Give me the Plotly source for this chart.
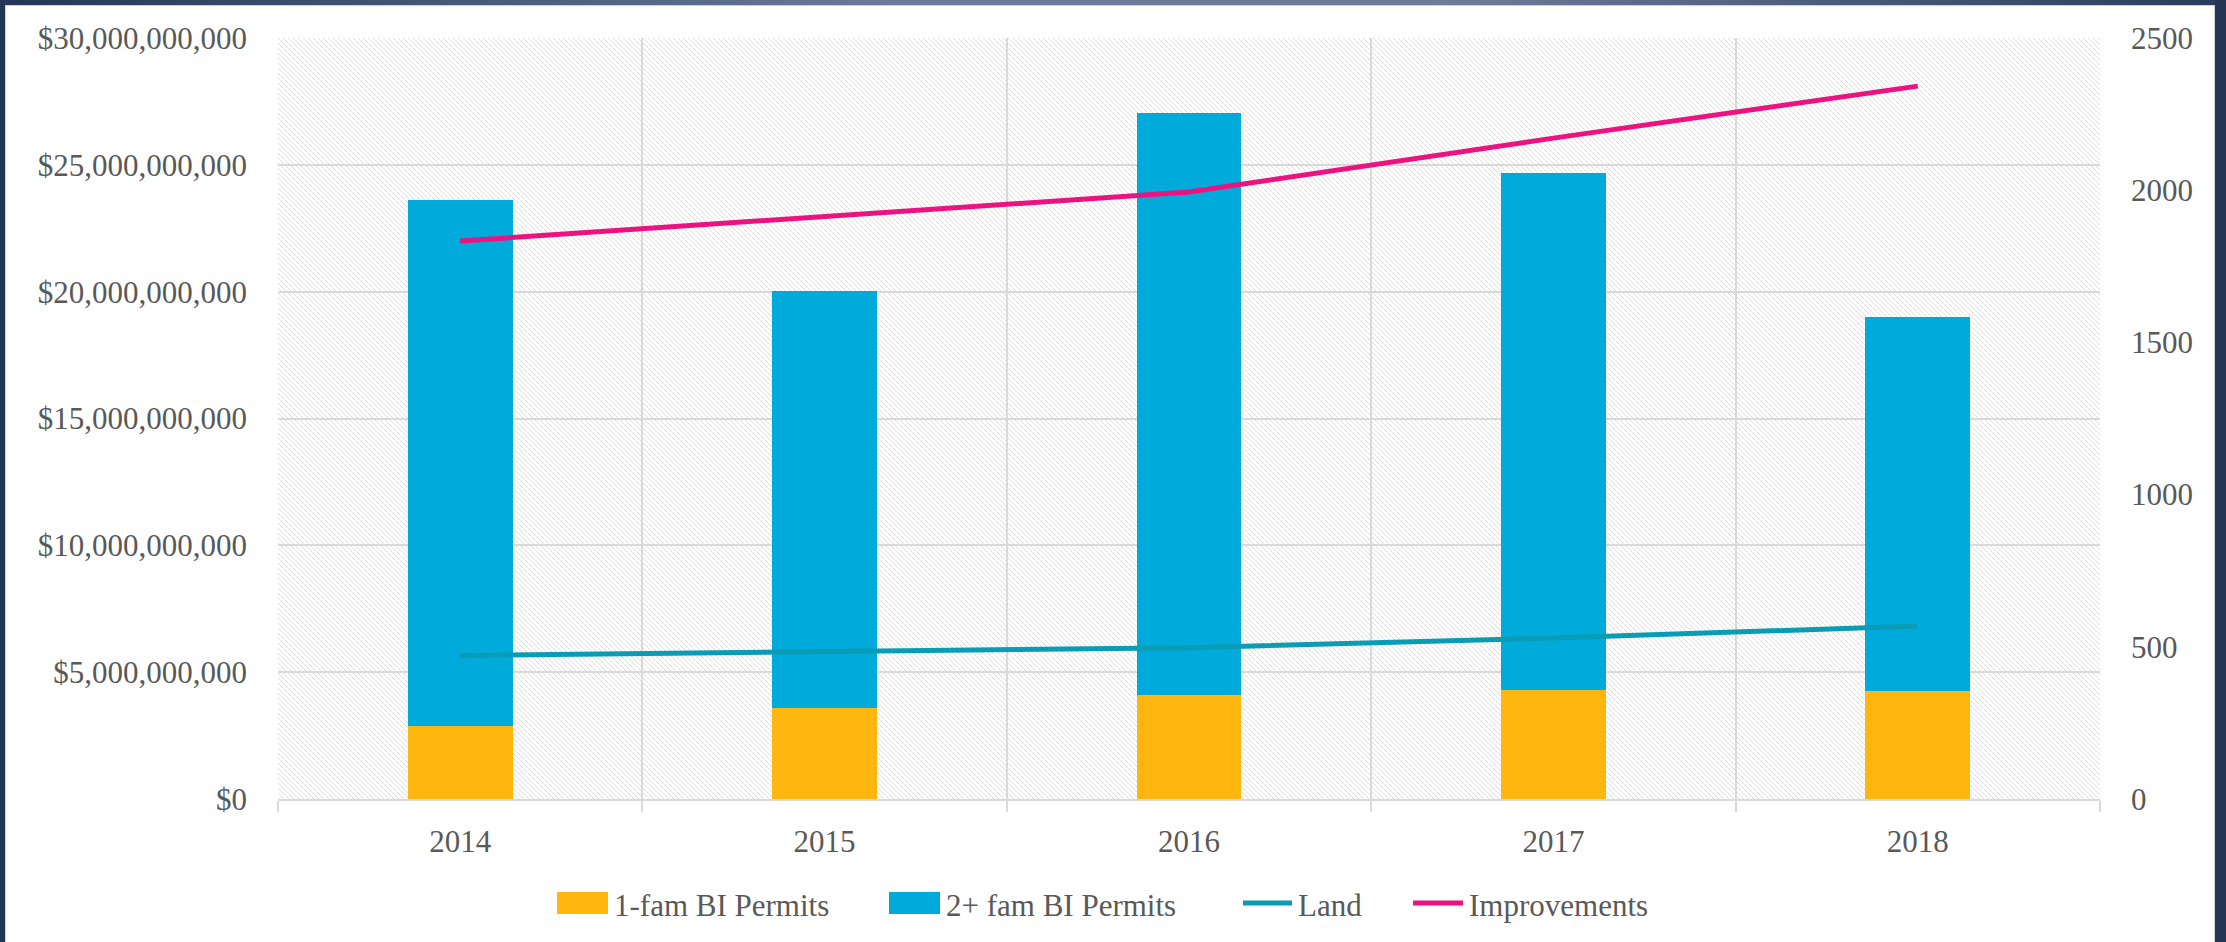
import base64
import plotly.graph_objects as go

# ---------------- data ----------------
years = ["2014", "2015", "2016", "2017", "2018"]
one_fam = [2.86e9, 3.58e9, 4.09e9, 4.31e9, 4.27e9]
two_plus = [20.77e9, 16.46e9, 22.95e9, 20.38e9, 14.72e9]
land = [471, 483, 497, 529, 568]
improvements = [1833, 1912, 1994, 2171, 2342]
left_ticks = [0, 5e9, 10e9, 15e9, 20e9, 25e9, 30e9]
left_labels = ["$" + f"{v:,.0f}" for v in left_ticks]
right_ticks = [0, 500, 1000, 1500, 2000, 2500]
series_names = ["1-fam BI Permits", "2+ fam BI Permits", "Land", "Improvements"]
series_colors = ["#FFB70F", "#00ABDB", "#0A9CB4", "#EC1380"]

# ---------------- layout geometry ----------------
W, H = 2226, 942
L, R, T, B = 278, 2100, 38, 799
PW, PH = R - L, B - T

def px(x):
    return (x - L) / PW

def py(y):
    return (B - y) / PH

FONT = "Liberation Serif"
GRAY = "#595959"
GRID = "#D9D9D9"

fig = go.Figure()
fig.add_trace(go.Bar(x=years, y=one_fam, name=series_names[0],
                     marker=dict(color=series_colors[0], line=dict(width=0))))
fig.add_trace(go.Bar(x=years, y=two_plus, name=series_names[1],
                     marker=dict(color=series_colors[1], line=dict(width=0))))
fig.add_trace(go.Scatter(x=years, y=land, name=series_names[2], yaxis="y2", mode="lines",
                         line=dict(color=series_colors[2], width=5)))
fig.add_trace(go.Scatter(x=years, y=improvements, name=series_names[3], yaxis="y2",
                         mode="lines", line=dict(color=series_colors[3], width=5)))

# hatch background for plot area
hatch_svg = f'''<svg xmlns="http://www.w3.org/2000/svg" width="{PW}" height="{PH}">
<defs><pattern id="h" patternUnits="userSpaceOnUse" width="5" height="5">
<path d="M0,0 L5,5 M-1,4 L1,6 M4,-1 L6,1" stroke="#DEDEDE" stroke-width="1"/>
</pattern></defs>
<rect width="{PW}" height="{PH}" fill="white"/>
<rect width="{PW}" height="{PH}" fill="url(#h)"/>
</svg>'''
hatch_uri = "data:image/svg+xml;base64," + base64.b64encode(hatch_svg.encode()).decode()

grad_svg = '''<svg xmlns="http://www.w3.org/2000/svg" width="2226" height="5">
<defs><linearGradient id="g" x1="0" x2="1" y1="0" y2="0">
<stop offset="0" stop-color="#243556"/><stop offset="0.4" stop-color="#6A7A98"/>
<stop offset="0.65" stop-color="#6C7C99"/><stop offset="1" stop-color="#2A3B5B"/>
</linearGradient></defs><rect width="2226" height="5" fill="url(#g)"/></svg>'''
grad_uri = "data:image/svg+xml;base64," + base64.b64encode(grad_svg.encode()).decode()

images = [
    dict(source=hatch_uri, xref="paper", yref="paper", x=0, y=1, sizex=1, sizey=1,
         xanchor="left", yanchor="top", sizing="stretch", layer="below"),
    dict(source=grad_uri, xref="paper", yref="paper", x=px(0), y=py(0),
         sizex=W / PW, sizey=5 / PH, xanchor="left", yanchor="top",
         sizing="stretch", layer="above"),
]

navy = "#243654"
shapes = [
    dict(type="rect", xref="paper", yref="paper", x0=px(0), x1=px(5), y0=py(H + 5), y1=py(0),
         fillcolor=navy, line=dict(width=0), layer="above"),
    dict(type="rect", xref="paper", yref="paper", x0=px(2215), x1=px(W + 5), y0=py(H + 5), y1=py(0),
         fillcolor=navy, line=dict(width=0), layer="above"),
    dict(type="line", xref="paper", yref="paper", x0=px(5.5), x1=px(5.5), y0=py(H + 5), y1=py(5),
         line=dict(color="#D0D0D0", width=1), layer="above"),
    dict(type="line", xref="paper", yref="paper", x0=px(2214.5), x1=px(2214.5), y0=py(H + 5), y1=py(5),
         line=dict(color="#D0D0D0", width=1), layer="above"),
    dict(type="line", xref="paper", yref="paper", x0=px(5), x1=px(2215), y0=py(5.5), y1=py(5.5),
         line=dict(color="#D0D0D0", width=1), layer="above"),
]

# ---------------- custom legend (swatches + labels) ----------------
annotations = []
legend_y = 903
legend_items = [
    # (kind, swatch x0, swatch x1, text x)
    ("box", 557, 608, 612),
    ("box", 889, 940, 944),
    ("line", 1243, 1292, 1296),
    ("line", 1413, 1463, 1467),
]
for (kind, sx0, sx1, tx), name, color in zip(legend_items, series_names, series_colors):
    if kind == "box":
        shapes.append(dict(type="rect", xref="paper", yref="paper", x0=px(sx0), x1=px(sx1),
                           y0=py(legend_y + 11), y1=py(legend_y - 11),
                           fillcolor=color, line=dict(width=0), layer="above"))
    else:
        shapes.append(dict(type="line", xref="paper", yref="paper", x0=px(sx0), x1=px(sx1),
                           y0=py(legend_y), y1=py(legend_y),
                           line=dict(color=color, width=5), layer="above"))
    annotations.append(dict(text=name, xref="paper", yref="paper", x=px(tx), y=py(legend_y + 2),
                            xanchor="left", yanchor="middle", showarrow=False,
                            font=dict(size=31, color=GRAY, family=FONT)))

fig.update_layout(
    width=W, height=H,
    margin=dict(l=L, r=W - R, t=T, b=H - B, pad=0),
    paper_bgcolor="white", plot_bgcolor="rgba(0,0,0,0)",
    barmode="stack", bargap=0.712,
    font=dict(family=FONT, color=GRAY, size=31),
    showlegend=False,
    xaxis=dict(type="category", tickson="boundaries", ticks="outside", ticklen=11,
               tickcolor=GRID, tickwidth=2, showgrid=True, gridcolor=GRID, gridwidth=2,
               showline=True, linecolor=GRID, linewidth=2,
               tickfont=dict(size=31, color=GRAY, family=FONT), ticklabelstandoff=14),
    yaxis=dict(range=[0, 30e9], tickmode="array", tickvals=left_ticks, ticktext=left_labels,
               showgrid=True, gridcolor=GRID, gridwidth=2, zeroline=False,
               showline=False, ticks="", ticklabelstandoff=30,
               tickfont=dict(size=31, color=GRAY, family=FONT)),
    yaxis2=dict(range=[0, 2500], tickvals=right_ticks, overlaying="y", side="right",
                showgrid=False, zeroline=False, showline=False, ticks="",
                ticklabelstandoff=30, tickfont=dict(size=31, color=GRAY, family=FONT)),
    images=images, shapes=shapes, annotations=annotations,
)

fig.write_html("out.html", config={"displayModeBar": False, "staticPlot": True},
               post_script="document.body.style.margin='0';document.body.style.padding='0';"
                           "document.body.style.overflow='hidden';")
